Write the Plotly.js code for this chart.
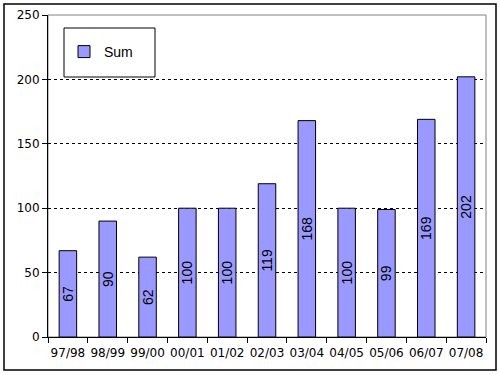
<!DOCTYPE html>
<html><head><meta charset="utf-8">
<script src="https://cdn.plot.ly/plotly-3.0.1.min.js"></script>
<style>html,body{margin:0;padding:0;background:#fff}#c{width:500px;height:375px}</style>
</head><body><div id="c"></div>
<script>
const categories = ["97/98","98/99","99/00","00/01","01/02","02/03","03/04","04/05","05/06","06/07","07/08"];
const sumValues = [67, 90, 62, 100, 100, 119, 168, 100, 99, 169, 202];
const yTicks = [0, 50, 100, 150, 200, 250];

const trace = {
  type: 'bar', name: 'Sum', x: categories, y: sumValues,
  text: sumValues.map(String), textposition: 'inside', insidetextanchor: 'middle',
  textangle: -90, constraintext: 'none',
  textfont: {family: 'Liberation Sans, Arial', size: 14, color: '#000'},
  marker: {color: '#9999FF', line: {color: '#000', width: 1}},
  hoverinfo: 'none'
};
const W = 438, H = 322, L = 48, T = 15;
const px = v => (v - L) / W, py = v => (T + H - v) / H;
const layout = {
  width: 500, height: 375,
  margin: {l: L, r: 500 - L - W, t: T, b: 375 - T - H},
  paper_bgcolor: '#fff', plot_bgcolor: '#fff',
  bargap: 0.56,
  showlegend: true,
  legend: {x: px(64), y: py(52), xanchor: 'left', yanchor: 'middle', bgcolor: 'rgba(0,0,0,0)', borderwidth: 0,
           font: {family: 'Liberation Sans, Arial', size: 14, color: '#000'}},
  font: {family: 'DejaVu Sans', size: 12, color: '#000'},
  xaxis: {type: 'category', showline: true, linecolor: '#000', linewidth: 1, ticks: 'outside', ticklen: 5,
          tickcolor: '#000', tickson: 'boundaries', showgrid: false, zeroline: false, tickangle: 0,
          ticklabelstandoff: 5,
          tickfont: {family: 'DejaVu Sans', size: 12, color: '#000'}, fixedrange: true},
  yaxis: {range: [0, 250], tickvals: yTicks, ticktext: yTicks.map(String), showline: true, linecolor: '#000', linewidth: 1,
          ticks: 'outside', ticklen: 5, tickcolor: '#000', showgrid: true, gridcolor: '#000', griddash: '3px,3px',
          gridwidth: 1, zeroline: false, tickfont: {family: 'DejaVu Sans', size: 12, color: '#000'}, fixedrange: true},
  shapes: [
    {type: 'rect', xref: 'paper', yref: 'paper', x0: 0, x1: 1, y0: 0, y1: 1, line: {color: '#808080', width: 1}, layer: 'below'},
    {type: 'rect', xref: 'paper', yref: 'paper', x0: px(4), x1: px(496), y0: py(370), y1: py(4), line: {color: '#000', width: 1.5}},
    {type: 'rect', xref: 'paper', yref: 'paper', x0: px(64), x1: px(155), y0: py(77), y1: py(28), line: {color: '#000', width: 1}, fillcolor: '#fff', layer: 'above'}
  ]
};
Plotly.newPlot('c', [trace], layout, {staticPlot: true, displayModeBar: false});
</script></body></html>
